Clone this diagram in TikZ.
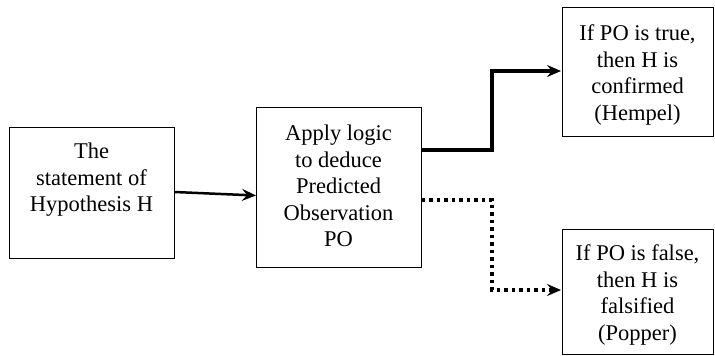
\documentclass[tikz,border=0pt]{standalone}
\usepackage{fontspec}
\setmainfont{Liberation Serif}
\usetikzlibrary{arrows.meta}
\begin{document}
\begin{tikzpicture}[x=1pt,y=-1pt,
  box/.style={draw=black,line width=1pt,rectangle},
  txt/.style={align=center,inner sep=0pt,font=\fontsize{22.5}{26.5}\selectfont},
  tip/.style={-{Stealth[length=14pt,width=12pt,inset=5pt]}},
  solidarrow/.style={tip,line width=3.5pt},
  dotarrow/.style={tip,line width=3.5pt,dash pattern=on 3.5pt off 4pt},
  thinarrow/.style={tip,line width=2.5pt}]
\useasboundingbox (0,0) rectangle (715,356);
% boxes
\draw[box] (9,127) rectangle (174,258);
\draw[box] (256,107) rectangle (421,267);
\draw[box] (562,7) rectangle (713,136);
\draw[box] (562,229) rectangle (713,354);
\node[inner sep=0pt] (b1) at (91.5,192.5) {};
\node[inner sep=0pt] (b2) at (338.5,187) {};
\node[inner sep=0pt] (b3) at (637.5,71.5) {};
\node[inner sep=0pt] (b4) at (637.5,291.5) {};
% texts
\node[txt] (t1) at (91.5,180) {The\\statement of\\Hypothesis H};
\node[txt] (t2) at (338.5,186) {Apply logic\\to deduce\\Predicted\\Observation\\PO};
\node[txt] (t3) at (637.5,75) {If PO is true,\\then H is\\confirmed\\(Hempel)};
\node[txt] (t4) at (637.5,295) {If PO is false,\\then H is\\falsified\\(Popper)};
% connector coordinates
\coordinate (a1s) at (174.5,192);
\coordinate (a1e) at (256,195.5);
\coordinate (a2s) at (421.5,150);
\coordinate (a2m1) at (492,150);
\coordinate (a2m2) at (492,71);
\coordinate (a2e) at (561,71);
\coordinate (a3s) at (421.5,200);
\coordinate (a3m1) at (492,200);
\coordinate (a3m2) at (492,290);
\coordinate (a3e) at (561,290);
\draw[thinarrow] (a1s) -- (a1e);
\draw[solidarrow] (a2s) -- (a2m1) -- (a2m2) -- (a2e);
\draw[dotarrow] (a3s) -- (a3m1) -- (a3m2) -- (a3e);
\end{tikzpicture}
\end{document}
